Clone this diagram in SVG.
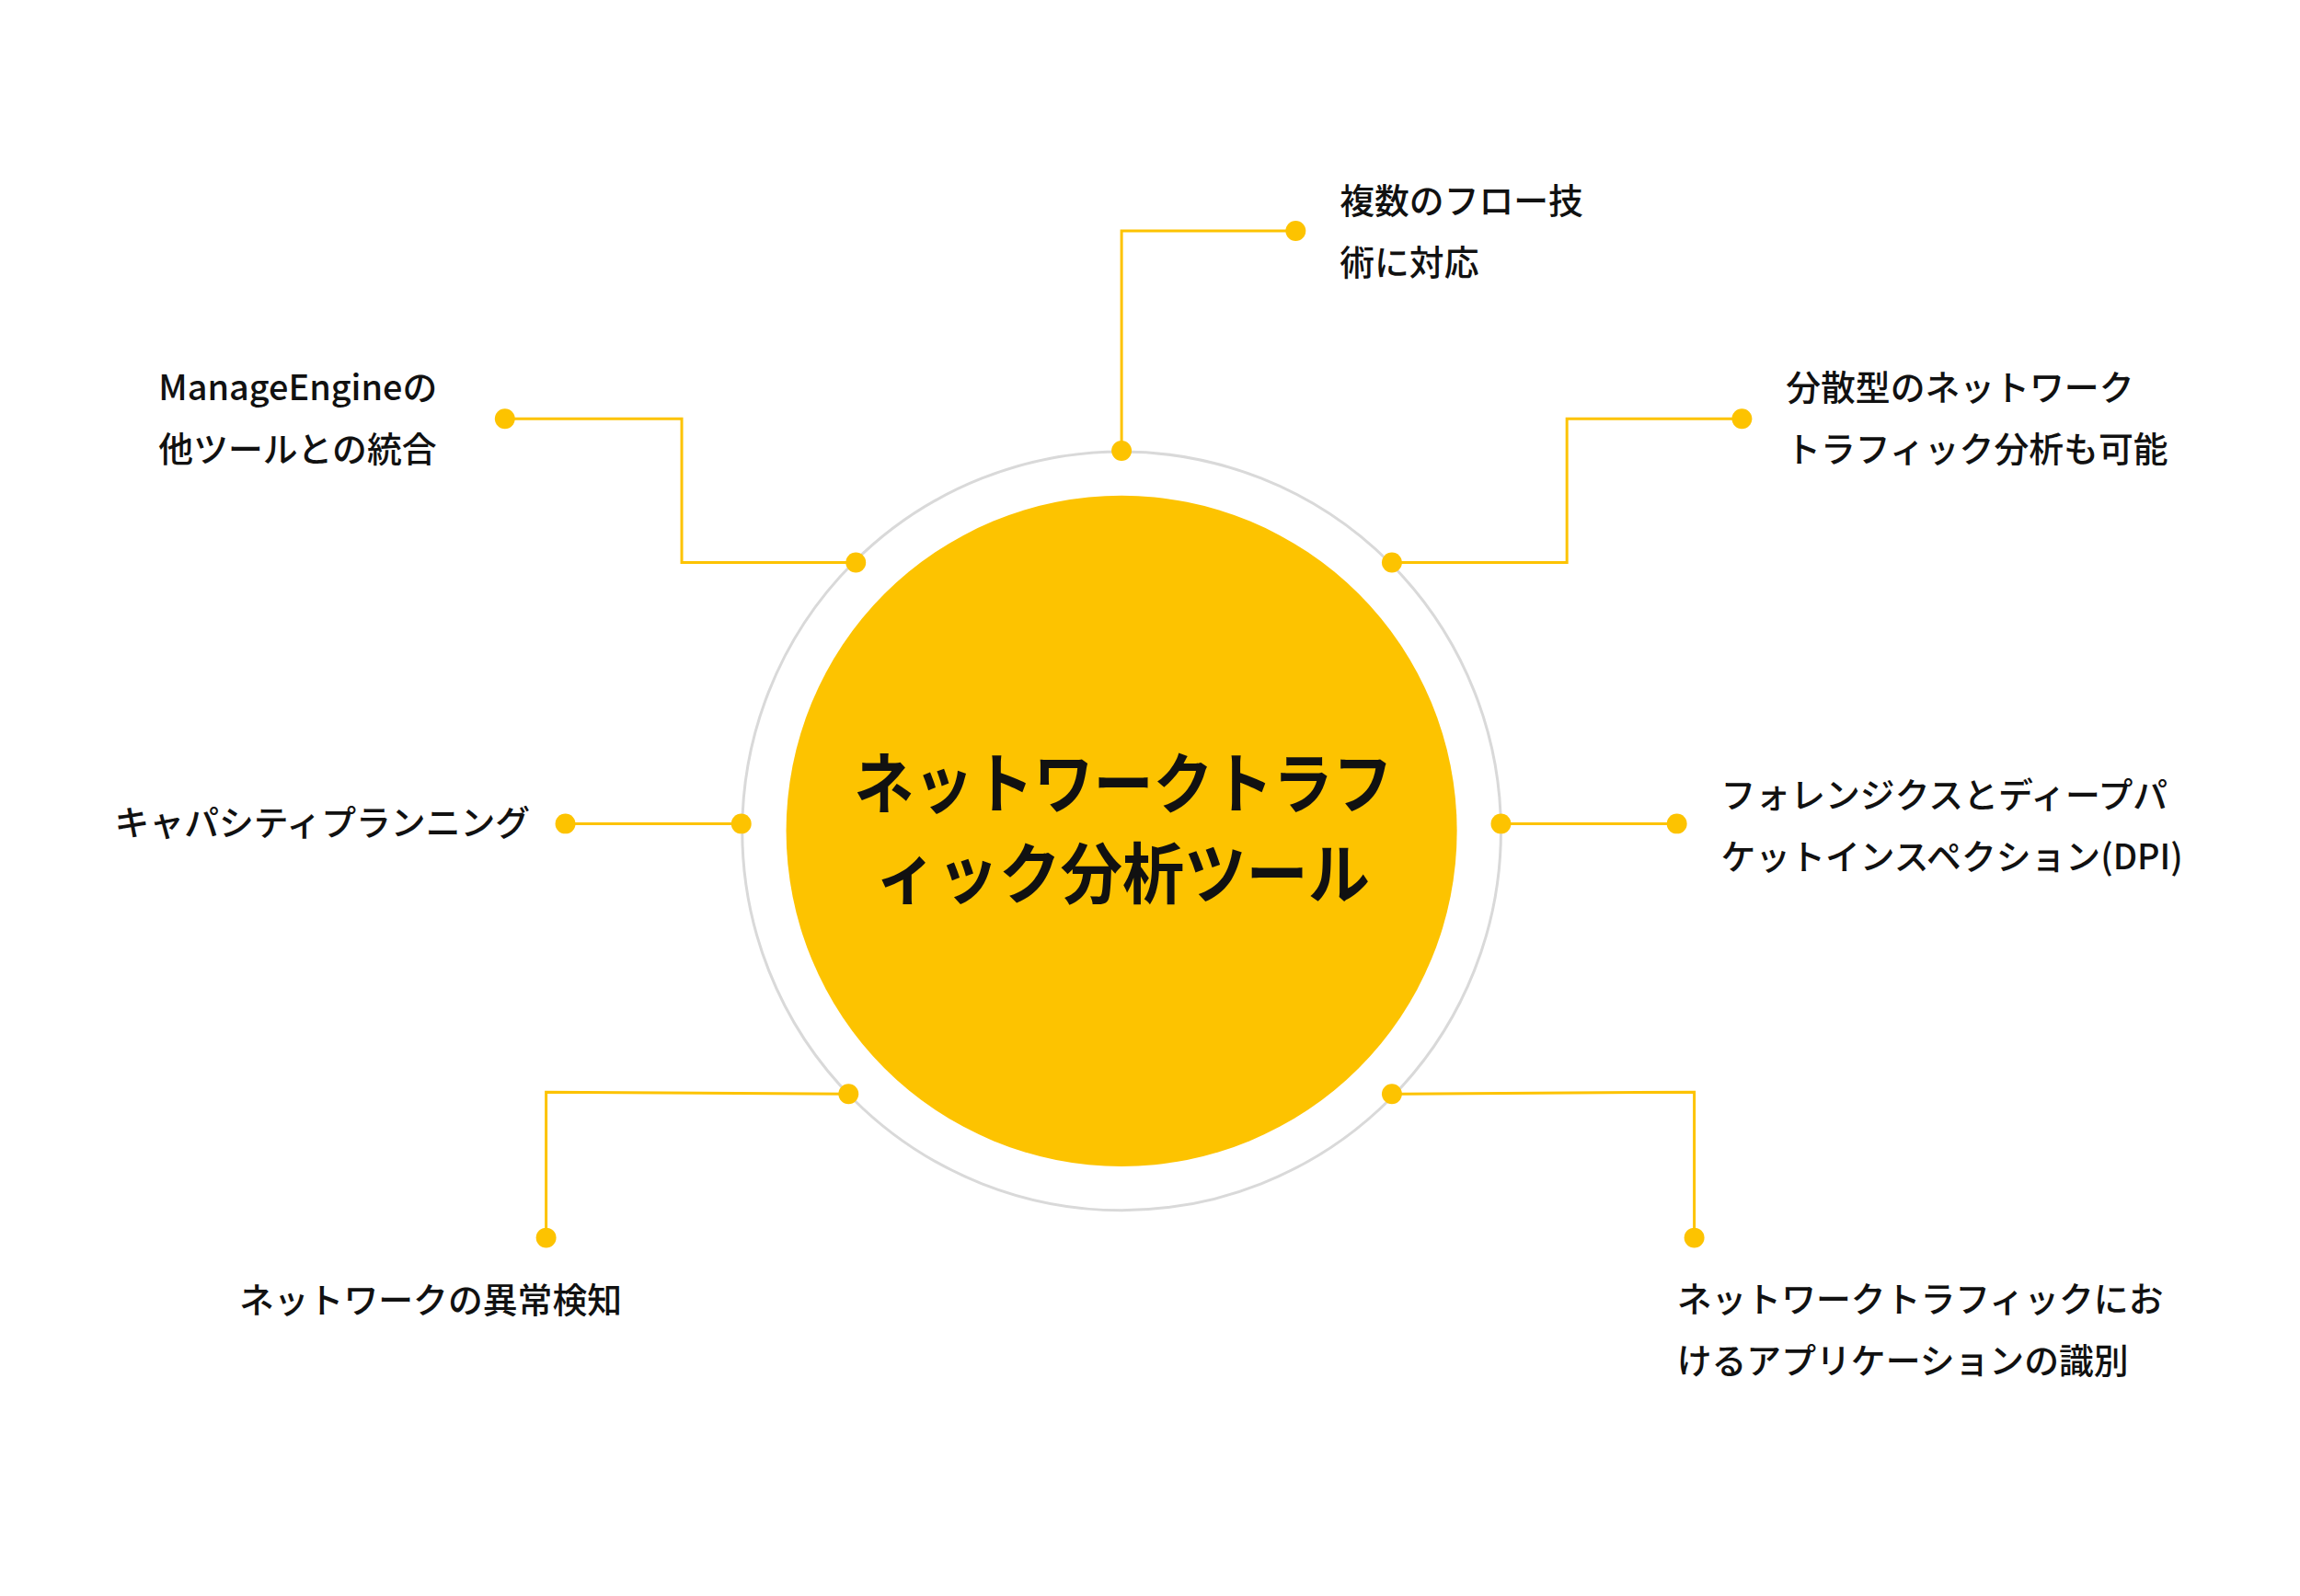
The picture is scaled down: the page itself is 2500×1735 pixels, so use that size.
<svg xmlns="http://www.w3.org/2000/svg" width="2500" height="1735" viewBox="0 0 2500 1735">
<style>
.t{font-family:"Noto Sans CJK JP","Noto Sans",sans-serif;font-size:38px;fill:#111;font-weight:500}
.c{font-family:"Noto Sans CJK JP","Noto Sans",sans-serif;font-size:72px;fill:#111;font-weight:700}
.l{fill:none;stroke:#FDC300;stroke-width:3}
.d{fill:#FDC300}
</style>
<rect width="2500" height="1735" fill="#fff"/>
<g transform="scale(0.996)">
<g id="hub">
<circle cx="1224" cy="907" r="414" fill="none" stroke="#d9d9d9" stroke-width="3"/>
<circle cx="1224" cy="907" r="366" fill="#FDC300"/>
<text class="c" x="932" y="882" textLength="588" lengthAdjust="spacingAndGlyphs">ネットワークトラフ</text>
<text class="c" x="955" y="980" textLength="540" lengthAdjust="spacingAndGlyphs">ィック分析ツール</text>
</g>
<g id="connectors">
<polyline class="l" points="1224,492 1224,252 1414,252"/>
<polyline class="l" points="934,614 744,614 744,457 551,457"/>
<polyline class="l" points="1519,614 1710,614 1710,457 1901,457"/>
<polyline class="l" points="809,899 617,899"/>
<polyline class="l" points="1638,899 1830,899"/>
<polyline class="l" points="926,1194 596,1192 596,1351"/>
<polyline class="l" points="1519,1194 1849,1192 1849,1351"/>
<g class="d">
<circle cx="1224" cy="492" r="11"/><circle cx="1414" cy="252" r="11"/>
<circle cx="934" cy="614" r="11"/><circle cx="551" cy="457" r="11"/>
<circle cx="1519" cy="614" r="11"/><circle cx="1901" cy="457" r="11"/>
<circle cx="809" cy="899" r="11"/><circle cx="617" cy="899" r="11"/>
<circle cx="1638" cy="899" r="11"/><circle cx="1830" cy="899" r="11"/>
<circle cx="926" cy="1194" r="11"/><circle cx="596" cy="1351" r="11"/>
<circle cx="1519" cy="1194" r="11"/><circle cx="1849" cy="1351" r="11"/>
</g>
</g>
<g id="n1"><text class="t" x="1462" y="233">複数のフロー技</text><text class="t" x="1462" y="300">術に対応</text></g>
<g id="n2"><text class="t" x="173" y="437">ManageEngineの</text><text class="t" x="173" y="504">他ツールとの統合</text></g>
<g id="n3"><text class="t" x="1949" y="437">分散型のネットワーク</text><text class="t" x="1949" y="504">トラフィック分析も可能</text></g>
<g id="n4"><text class="t" x="125" y="912">キャパシティプランニング</text></g>
<g id="n5"><text class="t" x="1878" y="882">フォレンジクスとディープパ</text><text class="t" x="1878" y="949">ケットインスペクション(DPI)</text></g>
<g id="n6"><text class="t" x="261" y="1433">ネットワークの異常検知</text></g>
<g id="n7"><text class="t" x="1830" y="1432">ネットワークトラフィックにお</text><text class="t" x="1830" y="1499">けるアプリケーションの識別</text></g>
</g>
</svg>
